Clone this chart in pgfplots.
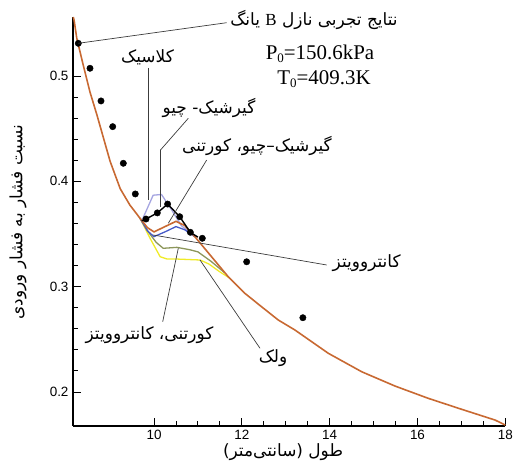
\documentclass[border=0pt]{standalone}
\usepackage{pgfplots}
\pgfplotsset{compat=1.18}
\usepackage{fontspec}
\setmainfont{Liberation Sans}
\newfontfamily\fa[Script=Arabic]{DejaVu Sans}
\newfontfamily\tnr{Liberation Serif}
\TeXXeTstate=1
\definecolor{mainc}{RGB}{200,105,50}
\definecolor{bluec}{RGB}{70,90,200}
\definecolor{lavc}{RGB}{165,165,225}
\definecolor{olivec}{RGB}{140,150,90}
\definecolor{yelc}{RGB}{240,235,40}
\definecolor{leadc}{RGB}{60,60,60}
\newcommand{\fs}{\fontsize{17}{18}\selectfont\fa}
\begin{document}
\begin{tikzpicture}
\useasboundingbox (-73bp,-42bp) rectangle (442bp,426bp);
\begin{axis}[
  at={(0,0)}, anchor=south west, scale only axis,
  width=432.3bp, height=409bp,
  xmin=8.155, xmax=18, ymin=0.1677, ymax=0.556,
  axis lines*=left,
  axis line style={line width=1.2bp},
  xtick={10,12,14,16,18}, ytick={0.2,0.3,0.4,0.5},
  minor x tick num=3, minor y tick num=4,
  tick align=inside,
  major tick length=8bp, minor tick length=5bp,
  tick style={black, line width=0.9bp},
  /pgf/number format/assume math mode=true,
  /pgf/number format/fixed, /pgf/number format/precision=1,
  /pgf/number format/fixed zerofill,
  xticklabel style={font=\fontsize{13.5}{14}\selectfont, /pgf/number format/precision=0, /pgf/number format/fixed zerofill=false, yshift=-1bp},
  yticklabel style={font=\fontsize{13.5}{14}\selectfont, xshift=-1bp},
  clip=false,
]
\addplot[yelc, line width=1.3bp] coordinates {
(9.68,0.365) (9.91,0.3459) (10.14,0.3284) (10.30,0.3262) (10.52,0.3262) (11.05,0.3253) (11.25,0.3215) (11.50,0.3140) (11.72,0.3082)};
\addplot[olivec, line width=1.3bp] coordinates {
(9.68,0.365) (9.87,0.352) (10.05,0.342) (10.21,0.3364) (10.52,0.3373) (10.82,0.3350) (11.0,0.3330) (11.3,0.3240) (11.6,0.3135)};
\addplot[lavc, line width=1.3bp] coordinates {
(9.72,0.3625) (9.78,0.368) (9.98,0.3868) (10.17,0.3875) (10.40,0.373) (10.62,0.358) (10.8,0.352) (10.93,0.3474)};
\addplot[bluec, line width=1.3bp] coordinates {
(9.68,0.365) (9.85,0.353) (10.0,0.3475) (10.25,0.352) (10.5,0.357) (10.7,0.354) (10.93,0.3474)};
\addplot[mainc, line width=1.6bp] coordinates {
(8.16,0.556) (8.18,0.553) (8.24,0.536) (8.39,0.510) (8.54,0.485) (8.70,0.463)
(8.85,0.441) (9.00,0.419) (9.23,0.393) (9.45,0.3775) (9.68,0.365) (9.85,0.356)
(10.0,0.352) (10.25,0.357) (10.5,0.362) (10.7,0.358) (10.93,0.3474) (11.31,0.3284)
(11.69,0.3094) (12.07,0.2936) (12.45,0.2809) (12.83,0.2683) (13.21,0.2588)
(13.97,0.2367) (14.73,0.2192) (15.49,0.2056) (16.25,0.1939) (17.01,0.1835)
(17.77,0.1733) (18.0,0.1686)};
\addplot[black, line width=1.4bp] coordinates {
(9.72,0.3625) (9.818,0.3642) (10.075,0.370) (10.31,0.3784) (10.585,0.3664) (10.827,0.3516) (11.0,0.347)};
\addplot[only marks, mark=*, mark size=3.2bp, black] coordinates {
(8.276,0.531) (8.542,0.5073) (8.793,0.4763) (9.059,0.4519) (9.301,0.4171)
(9.574,0.388) (9.818,0.3642) (10.075,0.370) (10.31,0.3784) (10.585,0.3664)
(10.827,0.3516) (11.10,0.3459) (12.11,0.3236) (13.39,0.2705)};
\end{axis}
\begin{scope}[shift={(-73bp,426bp)}, x=1bp, y=-1bp]
  \draw[leadc, line width=0.7bp] (78.3,43.3) -- (226.7,22.7);
  \draw[leadc, line width=0.7bp] (148,68) -- (148,200);
  \draw[leadc, line width=0.7bp] (188.3,118.3) -- (160.5,150) -- (160.5,207);
  \draw[leadc, line width=0.7bp] (206.7,160) -- (168.3,223.3);
  \draw[leadc, line width=0.7bp] (326.7,265) -- (153.3,235);
  \draw[leadc, line width=0.7bp] (162.7,321.7) -- (178.3,248.3);
  \draw[leadc, line width=0.7bp] (260,348.3) -- (200,260);
  \node at (314,20) {\fs\beginR نتایج تجربی نازل {\tnr B} یانگ\endR};
  \node at (320,54) {\fontsize{21}{22}\selectfont\tnr P\raisebox{-0.3ex}{\fontsize{13}{13}\selectfont 0}=150.6kPa};
  \node at (324,79) {\fontsize{21}{22}\selectfont\tnr T\raisebox{-0.3ex}{\fontsize{13}{13}\selectfont 0}=409.3K};
  \node at (147.5,57) {\fs\beginR کلاسیک\endR};
  \node at (209,108) {\fs\beginR گیرشیک- چیو\endR};
  \node at (257,146) {\fs\beginR گیرشیک–چیو، کورتنی\endR};
  \node at (366.7,263) {\fs\beginR کانتروویتز\endR};
  \node at (149.5,335) {\fs\beginR کورتنی، کانتروویتز\endR};
  \node at (273,358) {\fs\beginR ولک\endR};
  \node[rotate=90] at (18,222) {\fs\beginR نسبت فشار به فشار ورودی\endR};
  \node at (283,452) {\fs\beginR طول (سانتی‌متر)\endR};
\end{scope}
\end{tikzpicture}
\end{document}
